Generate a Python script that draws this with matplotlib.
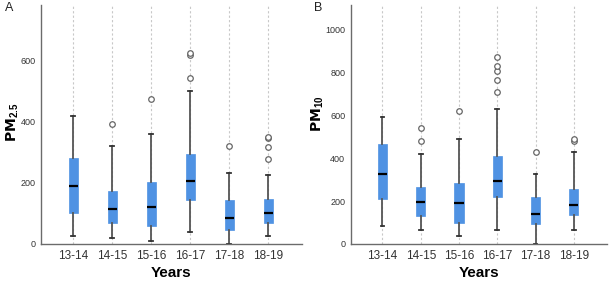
import matplotlib
matplotlib.use("Agg")
import matplotlib.pyplot as plt

plt.rcParams["font.family"] = ["Liberation Sans Narrow", "Liberation Sans", "DejaVu Sans"]
plt.rcParams["mathtext.fontset"] = "custom"
plt.rcParams["mathtext.rm"] = "Liberation Sans Narrow"
plt.rcParams["mathtext.bf"] = "Liberation Sans Narrow:bold"

years = ["13-14", "14-15", "15-16", "16-17", "17-18", "18-19"]

# panel A, PM2.5 box stats
pm25_whislo = [26, 21, 10, 40, 0, 26]
pm25_q1 = [100, 70, 60, 144, 44, 69]
pm25_med = [188, 115, 120, 206, 86, 102]
pm25_q3 = [280, 173, 201, 294, 145, 146]
pm25_whishi = [420, 321, 360, 501, 233, 225]
pm25_fliers = [[], [392], [475], [544, 619, 626], [320], [278, 317, 346, 351]]

# panel B, PM10
pm10_whislo = [82, 67, 36, 65, 0, 64]
pm10_q1 = [212, 131, 100, 218, 93, 134]
pm10_med = [328, 194, 190, 295, 138, 180]
pm10_q3 = [467, 266, 286, 412, 221, 258]
pm10_whishi = [591, 420, 491, 631, 325, 428]
pm10_fliers = [[], [479, 543], [619], [712, 767, 810, 829, 871], [429], [482, 488]]

box_color = "#4f92e3"
spine_color = "#6b6b6b"


def make_stats(whislo, q1, med, q3, whishi, fliers):
    stats = []
    for i in range(len(med)):
        stats.append(dict(whislo=whislo[i], q1=q1[i], med=med[i], q3=q3[i],
                          whishi=whishi[i], fliers=fliers[i]))
    return stats


def draw_panel(ax, stats, ymax, yticks, ylabel, label_xy):
    pos = list(range(len(years)))
    # light dotted guide line behind every box
    for p in pos:
        ax.axvline(p, color="#c8c8c8", lw=0.8, ls=(0, (2, 2)), zorder=0)
    ax.bxp(stats, positions=pos, widths=0.24, patch_artist=True,
           boxprops=dict(facecolor=box_color, edgecolor=box_color, lw=0.5),
           medianprops=dict(color="black", lw=1.6),
           whiskerprops=dict(color="#555555", lw=1.3),
           capprops=dict(color="#333333", lw=1.3),
           capwidths=0.1,
           flierprops=dict(marker="o", markersize=4, markerfacecolor="white",
                           markeredgecolor="#666666", markeredgewidth=0.9))
    ax.set_xlim(-0.83, 5.86)
    ax.set_ylim(0, ymax)
    ax.set_xticks(pos)
    ax.set_xticklabels(years, fontsize=8.5, color="#333333")
    ax.set_yticks(yticks)
    ax.set_yticklabels([str(t) for t in yticks], fontsize=6.5, color="#333333")
    ax.tick_params(length=0, pad=4)
    for s in ["top", "right"]:
        ax.spines[s].set_visible(False)
    for s in ["left", "bottom"]:
        ax.spines[s].set_color(spine_color)
        ax.spines[s].set_linewidth(1.0)
    ax.set_xlabel("Years", fontsize=11, fontweight="bold", labelpad=3)
    ax.set_ylabel(ylabel, fontsize=10, fontweight="bold")
    ax.yaxis.set_label_coords(*label_xy)


fig = plt.figure(figsize=(6.11, 2.83), dpi=100)
ax_a = fig.add_axes([0.067, 0.138, 0.427, 0.845])
ax_b = fig.add_axes([0.574, 0.138, 0.419, 0.845])

draw_panel(ax_a, make_stats(pm25_whislo, pm25_q1, pm25_med, pm25_q3, pm25_whishi, pm25_fliers),
           782, [0, 200, 400, 600], r"$\mathbf{PM}_{\mathregular{2.5}}$", (-0.077, 0.51))
draw_panel(ax_b, make_stats(pm10_whislo, pm10_q1, pm10_med, pm10_q3, pm10_whishi, pm10_fliers),
           1117, [0, 200, 400, 600, 800, 1000], r"$\mathbf{PM}_{\mathregular{10}}$", (-0.096, 0.545))

fig.text(0.008, 0.97, "A", fontsize=9, family="Liberation Sans", color="#222222", va="center", ha="left")
fig.text(0.514, 0.97, "B", fontsize=9, family="Liberation Sans", color="#222222", va="center", ha="left")

fig.savefig("out.png", dpi=100)
